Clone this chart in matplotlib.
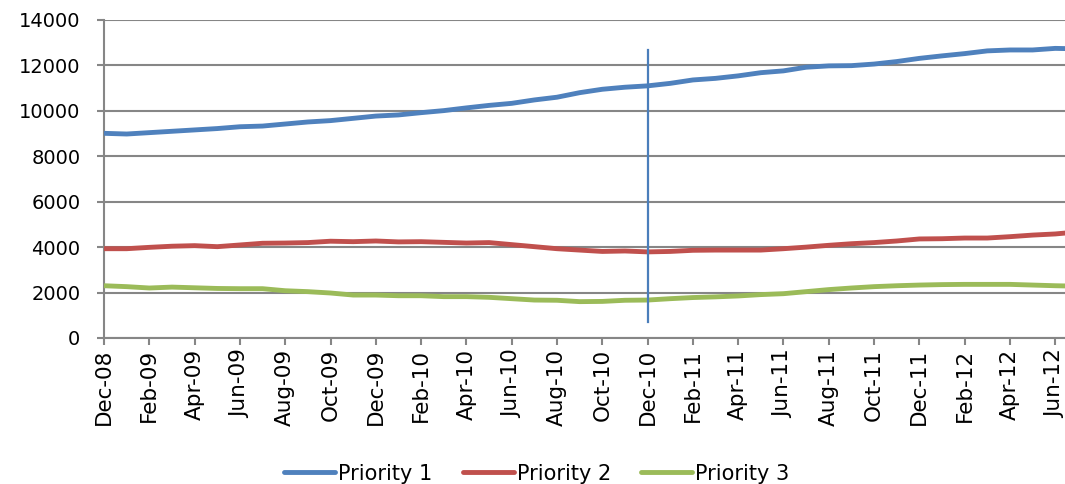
import numpy as np
import matplotlib.pyplot as plt

plt.rcParams['font.family'] = ['DejaVu Sans']

# monthly counts, Dec-08 through Jul-12
months = ['Dec-08', 'Jan-09', 'Feb-09', 'Mar-09', 'Apr-09', 'May-09', 'Jun-09', 'Jul-09',
          'Aug-09', 'Sep-09', 'Oct-09', 'Nov-09', 'Dec-09', 'Jan-10', 'Feb-10', 'Mar-10',
          'Apr-10', 'May-10', 'Jun-10', 'Jul-10', 'Aug-10', 'Sep-10', 'Oct-10', 'Nov-10',
          'Dec-10', 'Jan-11', 'Feb-11', 'Mar-11', 'Apr-11', 'May-11', 'Jun-11', 'Jul-11',
          'Aug-11', 'Sep-11', 'Oct-11', 'Nov-11', 'Dec-11', 'Jan-12', 'Feb-12', 'Mar-12',
          'Apr-12', 'May-12', 'Jun-12', 'Jul-12']

priority1 = [9010, 8980, 9040, 9100, 9160, 9220, 9300, 9330, 9420, 9510, 9570, 9670,
             9770, 9820, 9920, 10010, 10130, 10240, 10330, 10480, 10600, 10800, 10950, 11040,
             11100, 11210, 11360, 11430, 11540, 11680, 11760, 11920, 11980, 11990, 12060, 12170,
             12310, 12420, 12520, 12640, 12680, 12680, 12750, 12730]

priority2 = [3930, 3930, 3990, 4040, 4065, 4020, 4095, 4170, 4180, 4200, 4260, 4240,
             4270, 4230, 4240, 4210, 4180, 4200, 4110, 4020, 3930, 3870, 3810, 3830,
             3790, 3810, 3860, 3870, 3870, 3870, 3930, 4000, 4080, 4150, 4200, 4270,
             4360, 4370, 4400, 4400, 4460, 4530, 4580, 4670]

priority3 = [2300, 2260, 2200, 2240, 2210, 2180, 2170, 2170, 2080, 2040, 1980, 1890,
             1890, 1860, 1860, 1820, 1820, 1790, 1730, 1670, 1660, 1600, 1610, 1660,
             1670, 1730, 1780, 1810, 1850, 1910, 1950, 2040, 2130, 2200, 2260, 2300,
             2330, 2350, 2360, 2360, 2360, 2330, 2300, 2280]

marker_month = 'Dec-10'
marker_range = [700, 12700]

x = np.arange(len(months))

fig = plt.figure(figsize=(10.65, 4.84), dpi=100)
ax = fig.add_axes([0.0977, 0.3017, 0.9023, 0.657])

grid_col = '#868686'
for v in range(0, 14001, 2000):
    ax.axhline(v, color=grid_col, lw=1.5, zorder=1)

ax.plot(x, priority1, color='#4F81BD', lw=3.5, label='Priority 1', zorder=3, solid_capstyle='round')
ax.plot(x, priority2, color='#C0504D', lw=3.5, label='Priority 2', zorder=3, solid_capstyle='round')
ax.plot(x, priority3, color='#9BBB59', lw=3.5, label='Priority 3', zorder=3, solid_capstyle='round')

xm = months.index(marker_month)
ax.plot([xm, xm], marker_range, color='#4A7EBB', lw=1.6, zorder=4)

ax.set_xlim(0, 42.43)
ax.set_ylim(0, 14000)
ax.set_yticks(range(0, 14001, 2000))
ax.set_xticks(x[::2])
ax.set_xticklabels(months[::2], rotation=90, fontsize=15.5)
ax.tick_params(axis='y', labelsize=14, length=5, color=grid_col, width=1.5, pad=12)
ax.tick_params(axis='x', length=5, color=grid_col, width=1.5, pad=3)

for s in ['top', 'right']:
    ax.spines[s].set_visible(False)
for s in ['left', 'bottom']:
    ax.spines[s].set_color(grid_col)
    ax.spines[s].set_linewidth(1.5)

fig.legend(loc='lower center', bbox_to_anchor=(0.504, -0.038), ncol=3, frameon=False,
           fontsize=15, handlelength=2.45, handletextpad=0.15, columnspacing=1.45)

fig.savefig('out.png', dpi=100)
